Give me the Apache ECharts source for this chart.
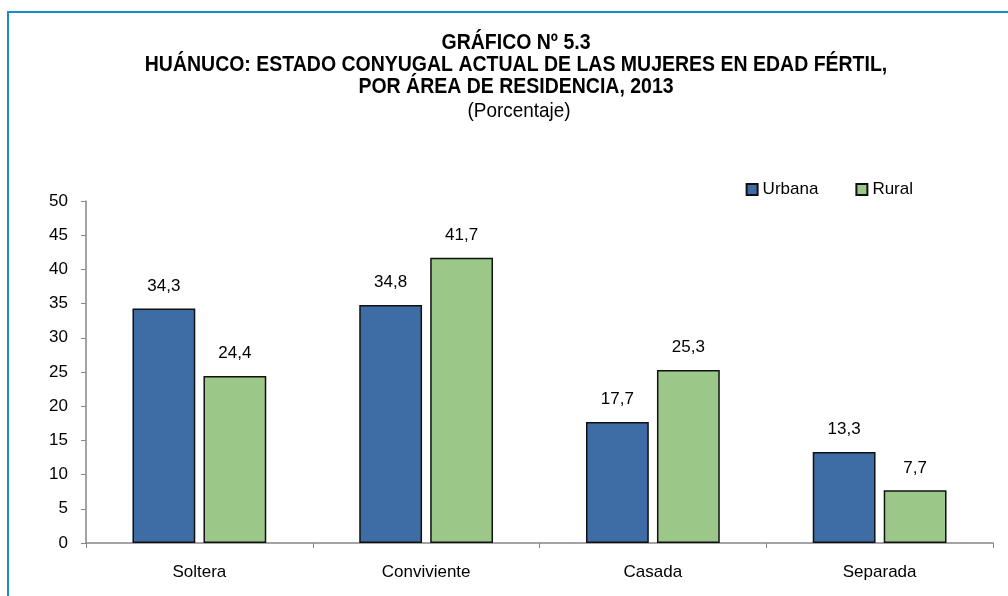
<!DOCTYPE html>
<html><head><meta charset="utf-8">
<script src="https://cdn.jsdelivr.net/npm/echarts@6/dist/echarts.min.js"></script>
<style>html,body{margin:0;padding:0;background:#fff}#c{width:1008px;height:596px}</style>
</head><body><div id="c"></div>
<script>
const categories = ['Soltera', 'Conviviente', 'Casada', 'Separada'];
const urbana = [34.3, 34.8, 17.7, 13.3];
const rural = [24.4, 41.7, 25.3, 7.7];
const seriesNames = ['Urbana', 'Rural'];
const titleLines = ['GRÁFICO Nº 5.3', 'HUÁNUCO: ESTADO CONYUGAL ACTUAL DE LAS MUJERES EN EDAD FÉRTIL,', 'POR ÁREA DE RESIDENCIA, 2013'];
const subtitle = '(Porcentaje)';

const FONT = '"Liberation Sans Narrow", "Arial Narrow", "Liberation Sans", sans-serif';
const chart = echarts.init(document.getElementById('c'));
const fmt = v => String(v.value).replace('.', ',');
const titleY = [43, 65, 87];
const titleGraphics = titleLines.map((t, i) => ({
  type: 'text', x: 516, y: titleY[i], scaleX: 0.886, scaleY: 1,
  style: {text: t, textAlign: 'center', textVerticalAlign: 'middle', font: 'bold 22px ' + FONT, fill: '#000'}
}));
titleGraphics.push({
  type: 'text', x: 519, y: 111, scaleX: 0.9, scaleY: 1,
  style: {text: subtitle, textAlign: 'center', textVerticalAlign: 'middle', font: '21px ' + FONT, fill: '#000'}
});
chart.setOption({
  animation: false,
  graphic: [{type: 'rect', shape: {x: 8, y: 12, width: 1100, height: 700}, style: {fill: 'none', stroke: '#1a8bc7', lineWidth: 2}}].concat(titleGraphics),
  legend: {
    data: seriesNames, right: 90, top: 176, itemWidth: 11, itemHeight: 11, itemGap: 37,
    icon: 'rect',
    textStyle: {fontFamily: FONT, fontSize: 17, color: '#000'}
  },
  grid: {left: 86, right: 15, top: 201, bottom: 53},
  xAxis: {
    type: 'category', data: categories,
    axisLine: {lineStyle: {color: '#868686', width: 1.5}},
    axisTick: {show: true, length: 5, lineStyle: {color: '#868686'}},
    axisLabel: {fontFamily: FONT, fontSize: 17, color: '#000', margin: 21}
  },
  yAxis: {
    type: 'value', min: 0, max: 50, interval: 5,
    splitLine: {show: false},
    axisLine: {show: true, lineStyle: {color: '#868686', width: 1.5}},
    axisTick: {show: true, length: 5, lineStyle: {color: '#868686'}},
    axisLabel: {fontFamily: FONT, fontSize: 17, color: '#000', margin: 18}
  },
  series: [
    {name: seriesNames[0], type: 'bar', data: urbana, barGap: '13%', barCategoryGap: '41%',
     itemStyle: {color: '#3e6da6', borderColor: '#111', borderWidth: 1.5},
     label: {show: true, position: 'top', distance: 14, formatter: fmt, fontFamily: FONT, fontSize: 17, color: '#000'}},
    {name: seriesNames[1], type: 'bar', data: rural,
     itemStyle: {color: '#9bc788', borderColor: '#111', borderWidth: 1.5},
     label: {show: true, position: 'top', distance: 14, formatter: fmt, fontFamily: FONT, fontSize: 17, color: '#000'}}
  ]
});
</script></body></html>
